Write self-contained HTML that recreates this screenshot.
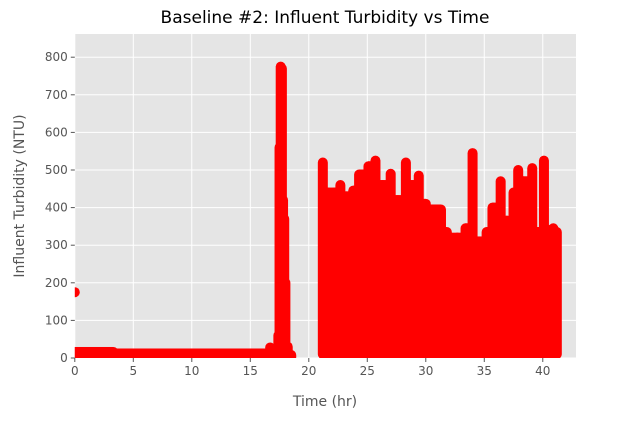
<!DOCTYPE html>
<html><head><meta charset="utf-8"><style>
body{margin:0;background:#fff;}
svg text{font-family:"DejaVu Sans","Liberation Sans",sans-serif;}
</style></head><body>
<svg id="chart" width="634" height="420" xmlns="http://www.w3.org/2000/svg">
<defs><clipPath id="clip"><rect x="74.8" y="34" width="501.2" height="324"/></clipPath></defs>
<rect x="74.8" y="34" width="501.2" height="324" fill="#e5e5e5"/>
<g id="grid"></g>
<g id="marks" clip-path="url(#clip)"></g>
<g id="axes"></g>
<text x="325" y="23" font-size="17" text-anchor="middle" fill="#000">Baseline #2: Influent Turbidity vs Time</text>
<text x="325" y="406" font-size="14" text-anchor="middle" fill="#555">Time (hr)</text>
<text transform="translate(24,196) rotate(-90)" font-size="14" text-anchor="middle" fill="#555">Influent Turbidity (NTU)</text>
</svg>
<script>
const singleTime = [0];
const singleValue = [175];
const lowBandTime = [0, 3.3];
const lowBandHigh = [16, 16];
const midBandTime = [3.3, 16.4];
const midBandHigh = [12, 12];
const bumpTime = [16.5, 16.7, 16.9];
const bumpHigh = [14, 28, 14];
const spikeTime = [17.4, 17.5, 17.6, 17.7, 17.8, 17.9, 18.0, 18.2, 18.5];
const spikeHigh = [60, 560, 775, 770, 420, 370, 200, 30, 8];
const denseTime = [21.2,21.6,22.2,22.7,23.2,23.8,24.3,25.1,25.7,26.3,27.0,27.6,28.3,28.8,29.4,30.0,30.6,31.3,31.8,32.7,33.4,34.0,34.7,35.2,35.7,36.4,36.9,37.5,37.9,38.3,39.1,39.6,40.1,40.5,40.9,41.2];
const denseHigh = [520,440,440,460,430,445,488,510,525,460,490,420,520,460,485,410,395,395,335,320,345,545,310,335,400,470,365,440,500,470,505,335,525,340,345,335];
const denseLow = 10;
const xTicks = [0,5,10,15,20,25,30,35,40];
const yTicks = [0,100,200,300,400,500,600,700,800];

const L=74.8,R=576,T=34,B=358,XMAX=42.84,YMAX=861.7;
const xs=t=>L+t/XMAX*(R-L);
const ys=v=>B-v/YMAX*(B-T);
const NS="http://www.w3.org/2000/svg";
function mk(tag,attrs,parent){const e=document.createElementNS(NS,tag);for(const k in attrs)e.setAttribute(k,attrs[k]);parent.appendChild(e);return e;}
const grid=document.getElementById('grid'),axes=document.getElementById('axes'),marks=document.getElementById('marks');
xTicks.forEach(t=>{
 const g=mk('line',{x1:xs(t),x2:xs(t),y1:T,y2:B,stroke:'#fff','stroke-width':1},grid);
 
 
 mk('line',{x1:xs(t),x2:xs(t),y1:B,y2:B+4,stroke:'#555'},axes);
 const tx=mk('text',{x:xs(t),y:B+17,'font-size':12,'text-anchor':'middle',fill:'#555'},axes);
 tx.textContent=t;
 
 
});
yTicks.forEach(v=>{
 const g=mk('line',{x1:L,x2:R,y1:ys(v),y2:ys(v),stroke:'#fff','stroke-width':1},grid);
 
 
 mk('line',{x1:L-4,x2:L,y1:ys(v),y2:ys(v),stroke:'#555'},axes);
 const tx=mk('text',{x:L-7,y:ys(v)+4,'font-size':12,'text-anchor':'end',fill:'#555'},axes);
 tx.textContent=v;
 
 
});
// columns of markers: a capsule at each sample plus fill between neighbours at the lower of the two heights
function band(times,highs,low,name){
 const g=mk('g',{fill:'#ff0000'},marks);
 
 
 times.forEach((t,i)=>{
  const top=ys(highs[i])-5, bot=ys(low)+5;
  const c=mk('rect',{x:xs(t)-5,y:top,width:10,height:Math.max(10,bot-top),rx:5},g);
  
  
  if(i<times.length-1){
   const h=Math.min(highs[i],highs[i+1]);
   const r=mk('rect',{x:xs(t),y:ys(h)-5,width:xs(times[i+1])-xs(t),height:ys(low)-ys(h)+10},g);
   
   
  }
 });
}
singleTime.forEach((t,i)=>{
 const c=mk('circle',{cx:xs(t),cy:ys(singleValue[i]),r:5,fill:'#ff0000'},marks);
 
 
});
band(lowBandTime,lowBandHigh,3,'low-band-early');
band(midBandTime,midBandHigh,3,'low-band-mid');
band(bumpTime,bumpHigh,3,'bump');
band(spikeTime,spikeHigh,3,'spike');
band(denseTime,denseHigh,denseLow,'dense-region');
</script>
</body></html>
